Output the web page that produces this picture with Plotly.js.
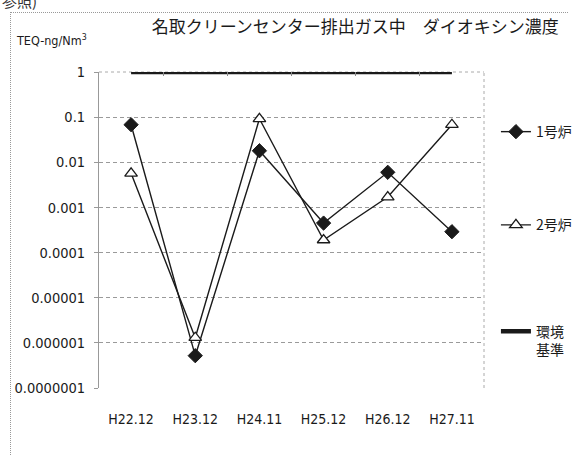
<!DOCTYPE html>
<html>
<head>
<meta charset="utf-8">
<script src="https://cdn.plot.ly/plotly-3.0.1.min.js"></script>
<style>
  html, body { margin: 0; padding: 0; background: #fff; }
  #wrap { position: relative; width: 573px; height: 455px; overflow: hidden; }
  #chart { position: absolute; left: 0; top: 0; width: 573px; height: 455px; }
  #frame { position: absolute; left: 10px; top: 12px; width: 557px; height: 460px;
           border-top: 1px dotted #999; border-left: 1px dotted #999; pointer-events: none; }
  #note { position: absolute; left: 2px; top: -10px; font: 15px "Noto Sans CJK JP", sans-serif; color: #333; }
</style>
</head>
<body>
<div id="wrap">
  <div id="chart"></div>
  <div id="frame"></div>
  <div id="note">参照)</div>
</div>
<script>
// ---- data ----
const categories = ["H22.12", "H23.12", "H24.11", "H25.12", "H26.12", "H27.11"];
const furnace1 = [0.068, 0.00000052, 0.018, 0.00045, 0.006, 0.00029];
const furnace2 = [0.0057, 0.0000013, 0.092, 0.00019, 0.0017, 0.068];
const standard = [1, 1, 1, 1, 1, 1];
const seriesNames = ["1号炉", "2号炉", "環境<br>基準"];
const yTickVals = [1, 0.1, 0.01, 0.001, 0.0001, 0.00001, 0.000001, 0.0000001];
const yTickText = ["1", "0.1", "0.01", "0.001", "0.0001", "0.00001", "0.000001", "0.0000001"];
const titleText = "名取クリーンセンター排出ガス中　ダイオキシン濃度";
const unitText = "TEQ-ng/Nm<sup>3</sup>";

const narrow = '"DejaVu Sans Condensed", "Noto Sans CJK JP", sans-serif';
const cjk = '"Noto Sans CJK JP", sans-serif';
const ink = "#1a1a1a";

const traces = [
  {
    x: categories, y: standard, name: seriesNames[2], type: "scatter", mode: "lines",
    xaxis: "x2", yaxis: "y",
    line: { color: ink, width: 4.5 }, legend: "legend3"
  },
  {
    x: categories, y: furnace1, name: seriesNames[0], type: "scatter", mode: "lines+markers",
    line: { color: ink, width: 1.4 },
    marker: { symbol: "diamond", size: 11, color: ink, line: { color: ink, width: 1 } },
    legend: "legend"
  },
  {
    x: categories, y: furnace2, name: seriesNames[1], type: "scatter", mode: "lines+markers",
    line: { color: ink, width: 1.4 },
    marker: { symbol: "triangle-up", size: 11, color: "#fff", line: { color: ink, width: 1.3 } },
    legend: "legend2"
  }
];

const legendBase = {
  xref: "paper", yref: "paper", x: 1.031, xanchor: "left", yanchor: "middle",
  bgcolor: "rgba(0,0,0,0)", font: { family: cjk, size: 14, color: ink },
  itemwidth: 30, valign: "top"
};

const layout = {
  width: 573, height: 455,
  margin: { l: 99, r: 89, t: 72, b: 67, autoexpand: false },
  paper_bgcolor: "#fff", plot_bgcolor: "#fff",
  showlegend: true,
  title: {
    text: titleText, x: 0.62, xanchor: "center", y: 0.94, yanchor: "middle",
    font: { family: cjk, size: 17, color: ink }
  },
  xaxis: {
    type: "category", range: [-0.5, 5.5], automargin: false,
    showgrid: false, zeroline: false, showline: false, ticks: "",
    tickfont: { family: narrow, size: 14, color: ink },
    ticklabelstandoff: 21
  },
  xaxis2: {
    type: "category", overlaying: "x", side: "top", range: [-0.5, 5.5], automargin: false,
    showgrid: false, zeroline: false, showline: false, showticklabels: false,
    ticks: "inside", ticklen: 4, tickcolor: "#888", tickson: "boundaries"
  },
  yaxis: {
    type: "log", range: [-7, 0], automargin: false,
    tickvals: yTickVals, ticktext: yTickText,
    showgrid: true, gridcolor: "#9a9a9a", griddash: "4px,3px", gridwidth: 1,
    showline: true, linecolor: "#999", linewidth: 1,
    ticks: "outside", ticklen: 4, tickcolor: "#999",
    tickfont: { family: narrow, size: 14.5, color: ink },
    ticklabelstandoff: 6,
    zeroline: false
  },
  legend: Object.assign({}, legendBase, { y: 0.81 }),
  legend2: Object.assign({}, legendBase, { y: 0.515 }),
  legend3: Object.assign({}, legendBase, { y: 0.15 }),
  shapes: [
    { type: "line", xref: "paper", yref: "paper", x0: 1, x1: 1, y0: 0, y1: 1,
      line: { color: "#aaa", width: 1, dash: "dot" }, layer: "below" },
    { type: "line", xref: "paper", yref: "paper", x0: 0, x1: 1, y0: 1, y1: 1,
      line: { color: "#aaa", width: 1, dash: "dot" }, layer: "below" }
  ],
  annotations: [
    { text: unitText, xref: "paper", yref: "paper", x: -0.222, y: 1.102, xanchor: "left", yanchor: "middle",
      showarrow: false, font: { family: narrow, size: 12.5, color: ink } }
  ]
};

Plotly.newPlot("chart", traces, layout, { displayModeBar: false, staticPlot: true });
</script>
</body>
</html>
